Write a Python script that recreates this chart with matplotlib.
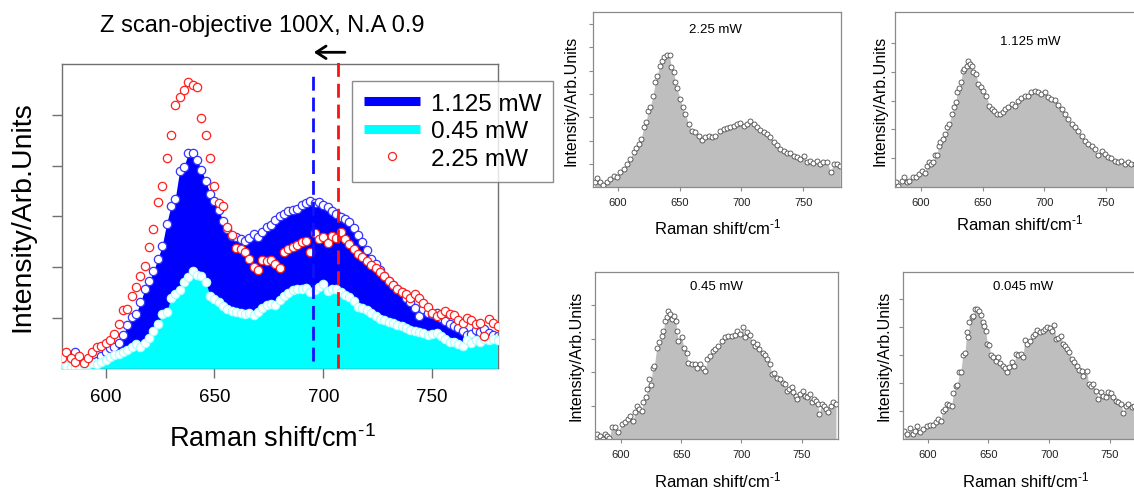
import matplotlib
matplotlib.use('Agg')
import matplotlib.pyplot as plt
import numpy as np
from matplotlib.lines import Line2D

plt.rcParams['font.family'] = ['Liberation Sans', 'DejaVu Sans']
plt.rcParams['mathtext.fontset'] = 'custom'
plt.rcParams['mathtext.rm'] = 'Liberation Sans'
plt.rcParams['mathtext.default'] = 'regular'
plt.rcParams['lines.scale_dashes'] = False

# ---------------- data: main panel ----------------
shift_main = np.arange(580, 781, 2)
int_225 = [0.2, 0.33, 0.2, 0.12, 0.25, 0.1, 0.2, 0.32, 0.43, 0.45, 0.5, 0.55, 0.68, 0.88, 1.15, 1.17,
           1.42, 1.6, 1.83, 2.02, 2.4, 2.76, 3.28, 3.6, 4.15, 4.6, 5.2, 5.35, 5.5, 5.65, 5.6, 5.55,
           4.95, 4.6, 4.15, 3.6, 3.26, 3.2, 2.8, 2.63, 2.38, 2.36, 2.3, 2.15, 2.0, 1.95, 2.14, 2.12,
           2.13, 2.06, 1.99, 2.3, 2.36, 2.4, 2.44, 2.5, 2.52, 2.3, 2.68, 2.55, 2.6, 2.47, 2.62, 2.58,
           2.7, 2.55, 2.46, 2.35, 2.25, 2.2, 2.12, 2.05, 1.99, 1.9, 1.82, 1.73, 1.65, 1.56, 1.5, 1.46,
           1.38, 1.47, 1.38, 1.28, 1.22, 1.1, 1.04, 1.07, 1.13, 1.08, 1.05, 0.95, 0.9, 1.0, 0.95, 0.88,
           0.9, 0.63, 0.97, 0.9, 0.84]
int_1125 = [0.1, 0.15, 0.25, 0.32, 0.2, 0.12, 0.15, 0.12, 0.15, 0.25, 0.33, 0.4, 0.43, 0.5, 0.65, 0.85,
            1.02, 1.08, 1.3, 1.56, 1.72, 1.92, 2.16, 2.42, 2.85, 3.2, 3.35, 3.9, 3.98, 4.25, 4.25, 4.12,
            3.92, 3.7, 3.45, 3.3, 3.13, 2.9, 2.75, 2.62, 2.6, 2.56, 2.52, 2.58, 2.66, 2.6, 2.7, 2.8,
            2.83, 2.92, 3.0, 3.05, 3.1, 3.12, 3.14, 3.22, 3.27, 3.31, 3.27, 3.28, 3.23, 3.19, 3.1, 3.05,
            2.99, 2.95, 2.88, 2.77, 2.64, 2.5, 2.33, 2.16, 2.06, 1.95, 1.83, 1.73, 1.64, 1.57, 1.5, 1.39,
            1.3, 1.2, 1.04, 1.18, 1.1, 1.07, 1.1, 1.0, 0.93, 0.88, 0.83, 0.8, 0.74, 0.66, 0.68, 0.75,
            0.72, 0.78, 0.7, 0.66, 0.64]
int_045 = [0.09, 0.05, 0.02, 0.03, 0.02, 0.06, 0.09, 0.1, 0.09, 0.13, 0.16, 0.22, 0.26, 0.29, 0.32, 0.36,
           0.42, 0.48, 0.42, 0.5, 0.6, 0.74, 0.88, 1.07, 1.12, 1.38, 1.47, 1.55, 1.7, 1.8, 1.92, 1.85,
           1.82, 1.7, 1.43, 1.37, 1.31, 1.24, 1.17, 1.14, 1.12, 1.1, 1.07, 1.1, 1.05, 1.12, 1.2, 1.25,
           1.27, 1.26, 1.35, 1.42, 1.48, 1.54, 1.57, 1.57, 1.58, 1.5, 1.55, 1.6, 1.66, 1.52, 1.57, 1.57,
           1.5, 1.45, 1.41, 1.32, 1.22, 1.2, 1.16, 1.1, 1.04, 0.98, 0.95, 0.92, 0.89, 0.86, 0.83, 0.8,
           0.75, 0.74, 0.72, 0.69, 0.66, 0.67, 0.7, 0.63, 0.58, 0.52, 0.51, 0.48, 0.45, 0.55, 0.5, 0.55,
           0.52, 0.58, 0.55, 0.58, 0.56]
peak_blue = 695.2
peak_red = 706.9
legend_labels = ['1.125 mW', '0.45 mW', '2.25 mW']

# ---------------- data: small panels ----------------
a_x = [581.3, 583.2, 586.0, 588.0, 591.3, 594.0, 596.7, 599.4, 602.0, 604.8, 607.5, 609.6, 612.8, 615.0,
       616.9, 619.0, 621.0, 623.1, 624.4, 626.3, 628.5, 630.3, 631.7, 633.9, 635.7, 637.6, 639.8, 641.9,
       643.3, 645.2, 646.5, 647.9, 650.5, 652.4, 654.6, 657.3, 660.0, 662.7, 665.4, 668.0, 670.7, 673.4,
       676.1, 678.8, 682.3, 685.5, 688.2, 690.9, 693.6, 696.3, 699.0, 701.7, 704.4, 707.1, 709.8, 712.5,
       715.2, 717.9, 720.5, 723.2, 725.9, 728.6, 731.3, 734.0, 736.7, 739.4, 742.1, 744.8, 747.5, 750.2,
       752.8, 755.5, 758.2, 760.9, 763.6, 766.3, 769.0, 772.2, 774.4, 777.1, 779.8]
a_y = [0.24, 0.39, 0.21, 0.1, 0.24, 0.36, 0.5, 0.43, 0.64, 0.79, 1.0, 1.21, 1.5, 1.67,
       1.86, 2.07, 2.57, 2.79, 3.29, 3.43, 3.93, 4.5, 4.76, 5.21, 5.43, 5.57, 5.67, 5.67,
       5.14, 4.96, 4.53, 4.24, 3.79, 3.43, 3.14, 2.71, 2.43, 2.36, 2.21, 2.04, 2.14, 2.21,
       2.14, 2.19, 2.43, 2.5, 2.53, 2.57, 2.64, 2.71, 2.76, 2.64, 2.71, 2.86, 2.71, 2.57,
       2.47, 2.39, 2.29, 2.14, 1.96, 1.81, 1.64, 1.57, 1.47, 1.47, 1.36, 1.29, 1.21, 1.36,
       1.07, 1.14, 1.04, 1.14, 1.0, 1.07, 1.1, 0.67, 1.0, 1.0, 0.9]

b_x = [579.7, 581.6, 584.3, 586.2, 588.4, 590.5, 593.2, 595.9, 598.6, 600.5, 603.2, 605.1, 606.8, 608.6,
       610.0, 611.6, 613.2, 614.3, 615.9, 617.6, 619.5, 621.4, 623.0, 624.9, 626.8, 628.4, 629.5, 631.1,
       632.4, 633.8, 635.1, 637.0, 638.4, 639.7, 641.1, 642.4, 644.6, 646.5, 648.4, 650.5, 653.2, 655.4,
       657.3, 659.2, 661.4, 664.1, 666.2, 668.1, 670.8, 673.5, 676.2, 678.9, 681.6, 684.3, 687.0, 689.7,
       692.4, 695.1, 697.8, 700.5, 703.2, 705.9, 708.6, 711.4, 714.1, 716.8, 719.5, 722.2, 724.9, 727.6,
       730.3, 733.0, 735.7, 738.4, 741.1, 743.8, 746.5, 749.2, 751.9, 754.6, 757.3, 760.0, 762.7, 765.4,
       768.1, 770.8, 774.0, 777.0, 780.0]
b_y = [0.17, 0.06, 0.23, 0.35, 0.17, 0.23, 0.35, 0.35, 0.46, 0.58, 0.5, 0.75, 0.86, 0.81,
       0.86, 1.1, 1.12, 1.44, 1.56, 1.67, 1.84, 2.07, 2.19, 2.54, 2.77, 2.94, 3.29, 3.42,
       3.63, 4.03, 4.09, 4.21, 4.38, 4.27, 4.21, 4.0, 3.92, 3.57, 3.46, 3.34, 3.17, 2.82,
       2.71, 2.65, 2.54, 2.54, 2.59, 2.71, 2.77, 2.88, 2.82, 3.0, 3.08, 3.15, 3.17, 3.31,
       3.34, 3.29, 3.23, 3.31, 3.11, 3.05, 3.02, 2.85, 2.71, 2.54, 2.36, 2.19, 2.07, 1.96,
       1.79, 1.61, 1.5, 1.44, 1.33, 1.1, 1.27, 1.15, 1.04, 1.0, 0.92, 0.86, 0.92, 0.81,
       0.86, 0.81, 0.8, 0.78, 0.76]

c_x = [580.3, 582.6, 584.8, 586.7, 588.6, 590.3, 592.2, 595.0, 597.8, 600.6, 603.3, 606.1, 607.5, 610.2,
       611.6, 613.0, 615.2, 617.2, 618.5, 620.8, 621.9, 623.5, 624.6, 626.3, 627.7, 629.6, 631.8, 633.8,
       635.2, 636.5, 637.9, 639.3, 640.7, 642.1, 644.0, 645.7, 646.2, 647.6, 650.4, 652.3, 654.5, 655.9,
       658.7, 661.5, 663.4, 665.6, 667.8, 669.8, 671.7, 673.9, 676.1, 678.1, 680.8, 683.6, 686.4, 689.1,
       691.9, 694.7, 696.0, 698.8, 701.0, 703.0, 704.9, 707.1, 709.4, 711.3, 713.2, 714.9, 717.7, 719.6,
       721.5, 723.8, 725.1, 727.4, 729.3, 732.1, 734.3, 736.2, 737.6, 739.8, 741.7, 743.1, 745.3, 746.5,
       748.7, 750.9, 752.8, 754.8, 757.0, 758.4, 760.3, 762.0, 763.3, 764.7, 766.7, 768.6, 770.3, 772.2,
       774.1, 776.4, 778.6]
c_y = [0.15, 0.1, 0.0, 0.15, 0.1, 0.02, 0.35, 0.35, 0.22, 0.45, 0.5, 0.6, 0.7, 0.55,
       0.8, 1.0, 0.9, 0.85, 1.1, 1.25, 1.5, 1.79, 1.62, 2.14, 2.19, 2.72, 2.89, 3.07,
       3.24, 3.54, 3.64, 3.84, 3.74, 3.59, 3.69, 3.54, 3.24, 2.94, 3.04, 2.74, 2.59, 2.29,
       2.24, 2.24, 2.14, 2.24, 2.14, 2.04, 2.39, 2.49, 2.64, 2.69, 2.79, 2.94, 3.04, 3.07,
       3.07, 3.11, 3.24, 3.14, 3.34, 3.04, 3.19, 3.11, 2.89, 2.79, 2.84, 2.69, 2.57, 2.51,
       2.39, 2.24, 1.94, 1.99, 1.84, 1.79, 1.69, 1.65, 1.45, 1.5, 1.55, 1.4, 1.3, 1.2,
       1.35, 1.45, 1.3, 1.25, 1.35, 1.1, 1.2, 1.15, 1.05, 0.75, 1.05, 1.0, 0.9, 0.8,
       1.0, 1.1, 1.05]

d_x = [580.8, 583.3, 585.5, 587.7, 589.6, 591.5, 593.7, 596.4, 599.2, 601.9, 604.7, 606.9, 608.8, 610.7,
       612.3, 614.3, 616.2, 617.8, 619.7, 621.1, 623.3, 624.4, 626.1, 627.2, 628.8, 630.7, 632.1, 633.5,
       634.3, 636.2, 637.6, 638.9, 640.9, 642.5, 643.6, 645.3, 646.4, 647.7, 649.1, 650.7, 651.8, 654.0,
       656.2, 658.1, 659.5, 661.7, 663.6, 665.0, 667.2, 669.1, 671.0, 672.7, 674.6, 676.5, 678.2, 680.1,
       682.0, 684.2, 686.4, 688.3, 690.2, 692.4, 694.6, 696.5, 698.5, 700.7, 702.0, 703.9, 705.6, 707.5,
       709.4, 711.6, 713.0, 714.9, 716.6, 718.5, 720.4, 722.6, 724.8, 726.7, 728.1, 730.8, 732.5, 734.1,
       736.3, 738.5, 740.4, 742.3, 744.5, 746.7, 748.7, 750.6, 752.8, 754.7, 756.9, 758.8, 761.0, 763.2,
       765.1, 767.9, 769.8, 773.0, 776.0, 779.0]
d_y = [0.3, 0.18, 0.38, 0.18, 0.3, 0.45, 0.26, 0.36, 0.45, 0.5, 0.5, 0.62, 0.71, 0.65,
       1.01, 1.07, 1.25, 1.21, 1.19, 1.64, 1.9, 1.93, 2.38, 2.4, 2.98, 3.07, 3.83, 3.63,
       4.17, 4.35, 4.4, 4.64, 4.64, 4.58, 4.43, 4.17, 4.02, 3.87, 3.39, 3.36, 3.0, 2.92,
       2.8, 2.92, 2.71, 2.62, 2.52, 2.4, 2.56, 2.74, 2.62, 3.04, 2.98, 3.04, 2.92, 3.55,
       3.39, 3.48, 3.69, 3.75, 3.9, 3.83, 3.87, 3.93, 3.99, 3.95, 3.87, 4.07, 3.57, 3.6,
       3.67, 3.39, 3.33, 3.21, 3.12, 2.86, 2.74, 2.62, 2.48, 2.44, 2.26, 2.44, 1.96, 1.9,
       1.96, 1.73, 1.43, 1.67, 1.55, 1.49, 1.69, 1.64, 1.49, 1.37, 1.31, 1.25, 0.93, 1.19,
       1.25, 1.13, 1.19, 1.1, 1.15, 1.1]

panel_titles = ['2.25 mW', '1.125 mW', '0.45 mW', '0.045 mW']
xlabel_text = r'Raman shift/cm$^{\text{-1}}$'
ylabel_text = 'Intensity/Arb.Units'

# ---------------- figure ----------------
W, H = 1134, 489
fig = plt.figure(figsize=(W / 100, H / 100), dpi=100)


def px_axes(l, t, r, b):
    return fig.add_axes([l / W, 1 - b / H, (r - l) / W, (b - t) / H])


# ---- main panel ----
ax = px_axes(62, 64.5, 497.5, 369.3)
ax.fill_between(shift_main, 0, int_1125, color='#0000FF', lw=0, zorder=1)
ax.plot(shift_main, int_1125, 'o', ms=6.0, mfc='white', mec='#3535FF', mew=0.9, zorder=2)
ax.fill_between(shift_main, 0, int_045, color='#00FFFF', lw=0, zorder=3)
ax.plot(shift_main, int_045, 'o', ms=6.0, mfc='white', mec='#B0FFFF', mew=0.9, zorder=4)
ax.plot(shift_main, int_225, 'o', ms=6.0, mfc='white', mec='#FF2020', mew=0.9, zorder=5)
ax.plot([peak_blue, peak_blue], [0.15, 5.87], color='#1010FF', lw=2, dashes=(10, 5), zorder=6)
ax.plot([peak_red, peak_red], [0.0, 6.08], color='#FF1010', lw=2, dashes=(10, 5), zorder=6,
        clip_on=False)
ax.set_xlim(580, 780)
ax.set_ylim(0, 6.02)
ax.set_xticks([600, 650, 700, 750])
ax.set_yticks([1, 2, 3, 4, 5])
ax.set_yticklabels([])
ax.tick_params(direction='out', length=7.5, width=1.0, color='#707070', labelsize=13.5, pad=7)
for s in ax.spines.values():
    s.set_color('#707070')
    s.set_linewidth(1.0)
ax.set_xlabel(xlabel_text, fontsize=19.5)
ax.xaxis.set_label_coords(0.483, -0.185)
ax.set_ylabel(ylabel_text, fontsize=20.5)
ax.yaxis.set_label_coords(-0.06, 0.5)

handles = [Line2D([], [], color='#0000FF', lw=6.5, solid_capstyle='butt'),
           Line2D([], [], color='#00FFFF', lw=6.5, solid_capstyle='butt'),
           Line2D([], [], ls='none', marker='o', ms=5.8, mfc='white', mec='#FF2020', mew=0.9)]
leg = fig.legend(handles, legend_labels, loc='upper left',
                 bbox_to_anchor=(351.7 / W, 1 - 81.7 / H), fontsize=17.5, frameon=True,
                 fancybox=False, edgecolor='#707070', borderaxespad=0, borderpad=0.5,
                 labelspacing=0.22, handlelength=2.3, handletextpad=0.45)
leg.get_frame().set_linewidth(1.0)

fig.text(262.5 / W, 1 - 26 / H, 'Z scan-objective 100X, N.A 0.9', fontsize=17,
         ha='center', va='center')
fig.add_artist(matplotlib.patches.FancyArrowPatch(
    (347.7 / W, 1 - 53.3 / H), (311 / W, 1 - 53.3 / H), transform=fig.transFigure,
    arrowstyle='->,head_length=7,head_width=4.5', lw=2.0, color='black', mutation_scale=1))

# ---- small panels ----
small = [
    (a_x, a_y, (592.7, 13.3, 840.7, 188.3), (579.8, 780.2), 7.5, [1, 2, 3, 4, 5, 6, 7],
     (0.496, 0.905), -0.059, -0.165),
    (b_x, b_y, (895, 13.3, 1142.8, 188.3), (579.0, 780.0), 6.05, [1, 2, 3, 4, 5],
     (0.545, 0.838), -0.032, -0.145),
    (c_x, c_y, (595, 272.7, 838, 440), (578.4, 780.3), 5.01, [1, 2, 3, 4],
     (0.498, 0.913), -0.049, -0.185),
    (d_x, d_y, (903.3, 272.7, 1146.4, 440), (579.9, 780.0), 5.97, [1, 2, 3, 4, 5],
     (0.494, 0.913), -0.047, -0.185),
]
for (xs, ys, box, xl, ytop, yt, tpos, ylx, xly), title in zip(small, panel_titles):
    a = px_axes(*box)
    a.fill_between(xs, 0, ys, color='#BEBEBE', lw=0, zorder=1)
    a.plot(xs, ys, 'o', ms=3.6, mfc='white', mec='#4a4a4a', mew=0.6, zorder=2)
    a.set_xlim(*xl)
    a.set_ylim(0, ytop)
    a.set_xticks([600, 650, 700, 750])
    a.set_yticks(yt)
    a.set_yticklabels([])
    a.tick_params(direction='out', length=3, width=0.8, color='#8a8a8a', labelsize=8,
                  labelcolor='#222222', pad=4)
    for s in a.spines.values():
        s.set_color('#8a8a8a')
        s.set_linewidth(0.9)
    a.set_xlabel(xlabel_text, fontsize=12)
    a.xaxis.set_label_coords(0.505, xly)
    a.set_ylabel(ylabel_text, fontsize=11.5)
    a.yaxis.set_label_coords(ylx, 0.5)
    a.text(tpos[0], tpos[1], title, transform=a.transAxes, fontsize=9.5, ha='center',
           va='center')

fig.savefig('out.png', dpi=100)
